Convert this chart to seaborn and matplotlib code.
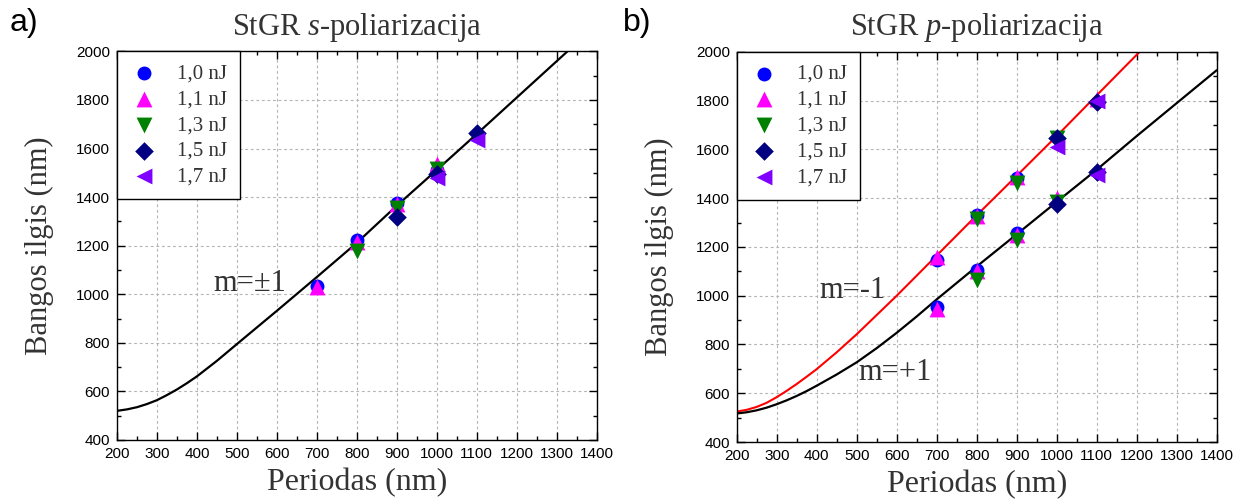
import numpy as np
import pandas as pd
import seaborn as sns
import matplotlib.pyplot as plt
from matplotlib.ticker import MultipleLocator

# measured periods (nm)
periods = [700, 800, 900, 1000, 1100]
energies = ['1,0 nJ', '1,1 nJ', '1,3 nJ', '1,5 nJ', '1,7 nJ']
nan = np.nan

# s-polarisation, measured wavelengths (nm)
s_10 = [1033, 1222, 1375, 1510, nan]
s_11 = [1028, 1215, 1372, 1535, nan]
s_13 = [nan, 1177, 1356, 1514, nan]
s_15 = [nan, nan, 1320, 1495, 1662]
s_17 = [nan, nan, nan, 1477, 1637]

# p-polarisation, m=-1 branch
pm_10 = [1145, 1330, 1483, nan, nan]
pm_11 = [1157, 1325, 1488, nan, 1805]
pm_13 = [nan, 1315, 1464, 1645, nan]
pm_15 = [nan, nan, nan, 1645, 1793]
pm_17 = [nan, nan, nan, 1608, 1800]

# p-polarisation, m=+1 branch
pp_10 = [953, 1107, 1257, nan, nan]
pp_11 = [945, 1100, 1250, 1400, nan]
pp_13 = [nan, 1066, 1230, 1385, nan]
pp_15 = [nan, nan, nan, 1378, 1508]
pp_17 = [nan, nan, nan, nan, 1495]

# theory curves
s_curve_x = [200, 225, 250, 275, 300, 325, 350, 375, 400, 450, 500, 600, 700, 800, 900, 1000, 1100, 1200, 1300, 1330]
s_curve_y = [520, 526, 535, 548, 564, 585, 608, 634, 662, 726, 795, 932, 1071, 1212, 1365, 1512, 1660, 1810, 1960, 2005]
red_curve_x = [200, 225, 250, 275, 300, 325, 350, 375, 400, 450, 500, 600, 700, 800, 900, 1000, 1100, 1210]
red_curve_y = [525, 532, 544, 561, 584, 610, 638, 668, 699, 768, 842, 1000, 1165, 1330, 1492, 1655, 1822, 2005]
blk_curve_x = [200, 225, 250, 275, 300, 325, 350, 375, 400, 450, 500, 550, 600, 650, 700, 800, 900, 1000, 1100, 1200, 1300, 1400]
blk_curve_y = [517, 522, 530, 541, 555, 571, 589, 609, 631, 677, 727, 785, 848, 915, 985, 1120, 1252, 1385, 1517, 1655, 1790, 1925]

colors = ['#0000ff', '#ff00ff', '#008000', '#000080', '#8000ff']
markers = ['o', '^', 'v', 'D', '<']
sizes = [100, 130, 130, 90, 130]

SERIF = 'Liberation Serif'
SANS = 'Liberation Sans'
TXT = '#333333'

sns.set_theme(style='ticks')
plt.rcParams['font.family'] = [SANS, 'DejaVu Sans']
plt.rcParams['mathtext.fontset'] = 'custom'
plt.rcParams['mathtext.rm'] = 'Liberation Serif'
plt.rcParams['mathtext.it'] = 'Liberation Serif:italic'


def long_df(series_list):
    rows = []
    for lab, ys in zip(energies, series_list):
        for x, y in zip(periods, ys):
            if not np.isnan(y):
                rows.append({'period': x, 'wl': y, 'energy': lab})
    return pd.DataFrame(rows)


def draw_points(ax, df, legend):
    for i, lab in enumerate(energies):
        sub = df[df['energy'] == lab]
        sns.scatterplot(data=sub, x='period', y='wl', ax=ax, color=colors[i],
                        marker=markers[i], s=sizes[i], linewidth=0,
                        label=lab if legend else None, zorder=3 + i)


def style_axes(ax, title):
    ax.set_xlim(200, 1400)
    ax.set_ylim(400, 2000)
    ax.xaxis.set_major_locator(MultipleLocator(100))
    ax.xaxis.set_minor_locator(MultipleLocator(50))
    ax.yaxis.set_major_locator(MultipleLocator(200))
    ax.yaxis.set_minor_locator(MultipleLocator(100))
    ax.tick_params(which='both', direction='in', top=True, right=True,
                   colors='black', labelsize=11, pad=5)
    ax.tick_params(which='major', length=6, width=1)
    ax.tick_params(which='minor', length=3, width=1)
    ax.grid(True, which='major', linestyle=(0, (2.5, 2.5)), color='#b4b4b4', linewidth=0.8)
    for sp in ax.spines.values():
        sp.set_color('black')
        sp.set_linewidth(1.0)
    ax.set_xlabel('Periodas (nm)', family=SERIF, fontsize=23, color=TXT, labelpad=5)
    ax.set_ylabel('Bangos ilgis (nm)', family=SERIF, fontsize=22, color=TXT, labelpad=16)
    ax.set_title(title, family=SERIF, fontsize=22, color=TXT, pad=12)
    leg = ax.legend(loc='upper left', borderaxespad=0, frameon=True, fancybox=False,
                    edgecolor='black', framealpha=1, handletextpad=0.9,
                    handlelength=1.4, labelspacing=0.3, borderpad=0.6,
                    prop={'family': SERIF, 'size': 15})
    leg.get_frame().set_linewidth(1.0)
    for t in leg.get_texts():
        t.set_color(TXT)
    leg.set_zorder(10)


fig = plt.figure(figsize=(12.51, 5.04), dpi=100)
ax1 = fig.add_axes([0.0935, 0.127, 0.3835, 0.771])
ax2 = fig.add_axes([0.5889, 0.123, 0.3837, 0.774])

# panel a
sns.lineplot(x=s_curve_x, y=s_curve_y, ax=ax1, color='black', linewidth=1.6,
             sort=False, estimator=None, zorder=2)
draw_points(ax1, long_df([s_10, s_11, s_13, s_15, s_17]), True)
ax1.text(532, 1045, 'm=±1', family=SERIF, fontsize=22, color=TXT, ha='center', va='center')
style_axes(ax1, 'StGR $\\mathit{s}$-poliarizacija')

# panel b
sns.lineplot(x=red_curve_x, y=red_curve_y, ax=ax2, color='#ff0000', linewidth=1.5,
             sort=False, estimator=None, zorder=2)
sns.lineplot(x=blk_curve_x, y=blk_curve_y, ax=ax2, color='black', linewidth=1.6,
             sort=False, estimator=None, zorder=2)
draw_points(ax2, long_df([pm_10, pm_11, pm_13, pm_15, pm_17]), True)
draw_points(ax2, long_df([pp_10, pp_11, pp_13, pp_15, pp_17]), False)
ax2.text(490, 1023, 'm=-1', family=SERIF, fontsize=22, color=TXT, ha='center', va='center')
ax2.text(595, 687, 'm=+1', family=SERIF, fontsize=22, color=TXT, ha='center', va='center')
style_axes(ax2, 'StGR $\\mathit{p}$-poliarizacija')

fig.text(0.008, 0.955, 'a)', family=SANS, fontsize=23, color='black', va='center')
fig.text(0.498, 0.955, 'b)', family=SANS, fontsize=23, color='black', va='center')

fig.savefig('out.png', dpi=100)
